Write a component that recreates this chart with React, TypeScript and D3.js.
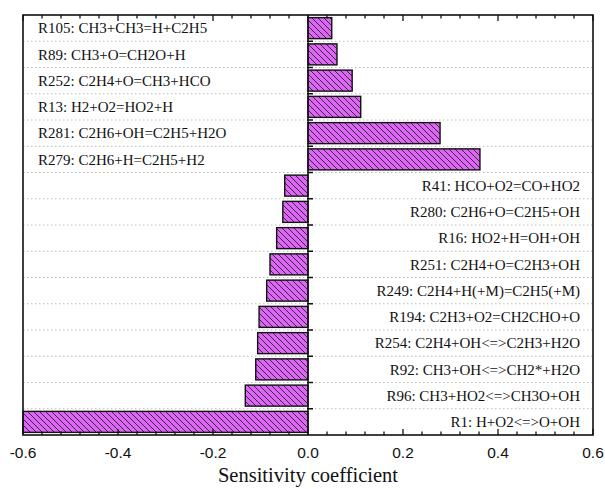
import React, { useEffect, useRef } from 'react';
import * as d3 from 'd3';

// reactions, top to bottom
const reactions = [
  'R105: CH3+CH3=H+C2H5',
  'R89: CH3+O=CH2O+H',
  'R252: C2H4+O=CH3+HCO',
  'R13: H2+O2=HO2+H',
  'R281: C2H6+OH=C2H5+H2O',
  'R279: C2H6+H=C2H5+H2',
  'R41: HCO+O2=CO+HO2',
  'R280: C2H6+O=C2H5+OH',
  'R16: HO2+H=OH+OH',
  'R251: C2H4+O=C2H3+OH',
  'R249: C2H4+H(+M)=C2H5(+M)',
  'R194: C2H3+O2=CH2CHO+O',
  'R254: C2H4+OH<=>C2H3+H2O',
  'R92: CH3+OH<=>CH2*+H2O',
  'R96: CH3+HO2<=>CH3O+OH',
  'R1: H+O2<=>O+OH',
];

const coefficients = [
  0.05, 0.061, 0.093, 0.111, 0.278, 0.362,
  -0.049, -0.053, -0.066, -0.08, -0.087, -0.103, -0.106, -0.11, -0.132, -0.6,
];

const xTicks = [-0.6, -0.4, -0.2, 0.0, 0.2, 0.4, 0.6];

const SensitivityChart = () => {
  const svgRef = useRef<SVGSVGElement>(null);

  useEffect(() => {
    const width = 605;
    const height = 489;
    const margin = { top: 15, right: 12, bottom: 54, left: 23 };

    const svg = d3.select(svgRef.current);
    svg.selectAll('*').remove();
    svg.attr('width', width).attr('height', height).style('display', 'block');

    const x = d3.scaleLinear()
      .domain([-0.6, 0.6])
      .range([margin.left, width - margin.right]);

    const y = d3.scaleBand()
      .domain(reactions)
      .range([margin.top, height - margin.bottom])
      .paddingInner(0.2)
      .paddingOuter(0.1);

    const step = y.step();
    const top = margin.top;
    const bottom = height - margin.bottom;

    // hatch pattern
    const defs = svg.append('defs');
    const pat = defs.append('pattern')
      .attr('id', 'hatch')
      .attr('patternUnits', 'userSpaceOnUse')
      .attr('width', 6)
      .attr('height', 6);
    pat.append('rect').attr('width', 6).attr('height', 6).attr('fill', '#DE66F7');
    pat.append('path')
      .attr('d', 'M0,0 L6,6 M-3,3 L3,9 M3,-3 L9,3')
      .attr('stroke', '#222')
      .attr('stroke-width', 0.9);

    // dotted grid lines between rows
    const boundaries = d3.range(1, reactions.length).map(i => top + i * step);
    svg.append('g')
      .selectAll('line')
      .data(boundaries)
      .join('line')
      .attr('x1', margin.left)
      .attr('x2', width - margin.right)
      .attr('y1', d => d)
      .attr('y2', d => d)
      .attr('stroke', '#bbb')
      .attr('stroke-width', 1)
      .attr('stroke-dasharray', '1.5,2.5');

    // bars
    svg.append('g')
      .selectAll('rect')
      .data(coefficients)
      .join('rect')
      .attr('x', d => x(Math.min(0, d)))
      .attr('y', (d, i) => y(reactions[i]))
      .attr('width', d => Math.abs(x(d) - x(0)))
      .attr('height', y.bandwidth())
      .attr('fill', 'url(#hatch)')
      .attr('stroke', '#111')
      .attr('stroke-width', 1.4);

    // zero line with row ticks
    svg.append('line')
      .attr('x1', x(0)).attr('x2', x(0))
      .attr('y1', top).attr('y2', bottom)
      .attr('stroke', '#111').attr('stroke-width', 1.5);
    svg.append('g')
      .selectAll('line')
      .data(boundaries)
      .join('line')
      .attr('x1', x(0) - 1)
      .attr('x2', x(0) + 5)
      .attr('y1', d => d)
      .attr('y2', d => d)
      .attr('stroke', '#111')
      .attr('stroke-width', 1.5);

    // minor + major ticks on top and bottom, pointing inward
    const minor = d3.range(-0.6, 0.6001, 0.04).map(v => +v.toFixed(2));
    const isMajor = (v: number) => xTicks.some(t => Math.abs(t - v) < 1e-6);
    const tickG = svg.append('g').attr('stroke', '#111').attr('stroke-width', 1.3);
    minor.forEach(v => {
      const len = isMajor(v) ? 6 : 3.5;
      tickG.append('line')
        .attr('x1', x(v)).attr('x2', x(v))
        .attr('y1', bottom).attr('y2', bottom - len);
      tickG.append('line')
        .attr('x1', x(v)).attr('x2', x(v))
        .attr('y1', top).attr('y2', top + len);
    });

    // frame
    svg.append('rect')
      .attr('x', margin.left)
      .attr('y', top)
      .attr('width', width - margin.right - margin.left)
      .attr('height', bottom - top)
      .attr('fill', 'none')
      .attr('stroke', '#111')
      .attr('stroke-width', 1.6);

    // tick labels
    svg.append('g')
      .selectAll('text')
      .data(xTicks)
      .join('text')
      .attr('x', d => x(d))
      .attr('y', bottom + 23)
      .attr('text-anchor', 'middle')
      .style('font-family', '"Liberation Sans", Arial, sans-serif')
      .style('font-size', '15.5px')
      .attr('fill', '#111')
      .text(d => d.toFixed(1));

    // reaction labels
    svg.append('g')
      .selectAll('text')
      .data(reactions)
      .join('text')
      .attr('x', (d, i) => (coefficients[i] > 0 ? margin.left + 15 : width - margin.right - 13))
      .attr('y', d => (y(d) as number) + y.bandwidth() / 2)
      .attr('dy', '0.35em')
      .attr('text-anchor', (d, i) => (coefficients[i] > 0 ? 'start' : 'end'))
      .style('font-family', '"Liberation Serif", "Times New Roman", serif')
      .style('font-size', '15px')
      .attr('fill', '#111')
      .text(d => d);

    // axis title
    svg.append('text')
      .attr('x', x(0))
      .attr('y', bottom + 47)
      .attr('text-anchor', 'middle')
      .style('font-family', '"Liberation Serif", "Times New Roman", serif')
      .style('font-size', '20.5px')
      .attr('fill', '#111')
      .text('Sensitivity coefficient');
  }, []);

  return <svg ref={svgRef}></svg>;
};

export default function App() {
  return (
    <div style={{ position: 'absolute', left: 0, top: 0 }}>
      <SensitivityChart />
    </div>
  );
}
